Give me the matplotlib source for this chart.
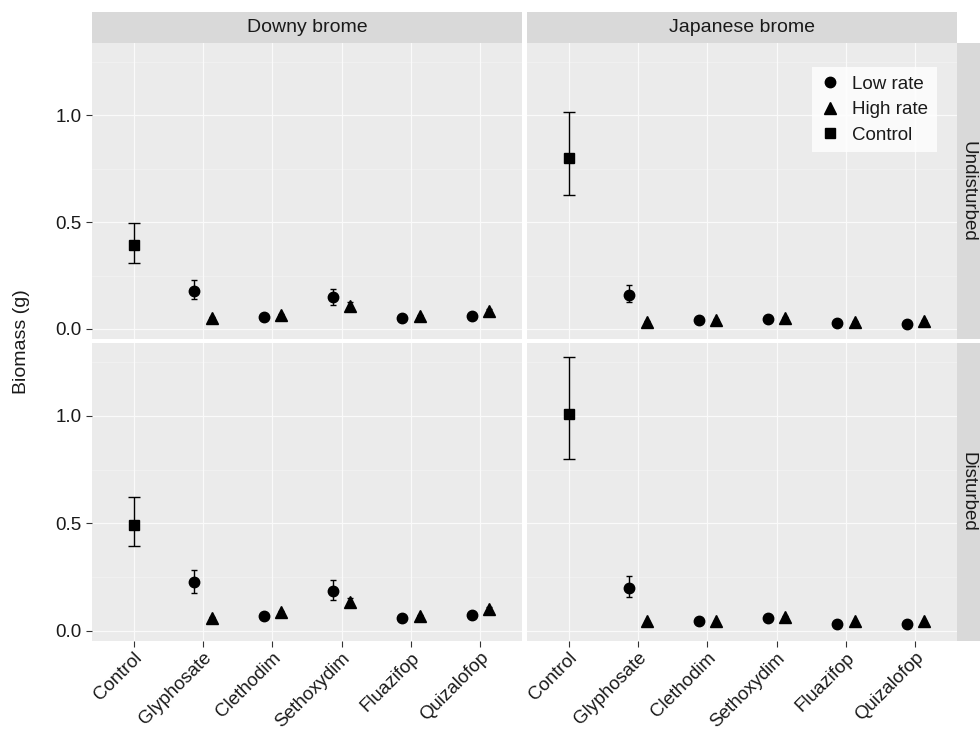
import matplotlib
matplotlib.use("Agg")
import matplotlib.pyplot as plt
from matplotlib.lines import Line2D

plt.rcParams['font.family'] = ['Liberation Sans', 'DejaVu Sans']

# ------------------------------------------------------------------
# Data - panel order: DU, JU, DD, JD
# ------------------------------------------------------------------
herbicides = ['Control', 'Glyphosate', 'Clethodim', 'Sethoxydim', 'Fluazifop', 'Quizalofop']
species = ['Downy brome', 'Japanese brome']
disturbance = ['Undisturbed', 'Disturbed']

ctrl_mean = [0.392, 0.798, 0.492, 1.007]
ctrl_lo = [0.307, 0.626, 0.394, 0.801]
ctrl_hi = [0.497, 1.016, 0.621, 1.274]

low_mean = [
    [0.179, 0.054, 0.148, 0.052, 0.061],
    [0.161, 0.042, 0.047, 0.030, 0.023],
    [0.226, 0.067, 0.187, 0.061, 0.075],
    [0.200, 0.048, 0.059, 0.033, 0.030],
]
low_lo = [
    [0.140, 0.049, 0.114, 0.047, 0.056],
    [0.126, 0.037, 0.043, 0.026, 0.019],
    [0.178, 0.061, 0.145, 0.055, 0.069],
    [0.159, 0.043, 0.054, 0.029, 0.026],
]
low_hi = [
    [0.229, 0.059, 0.187, 0.057, 0.066],
    [0.204, 0.047, 0.051, 0.034, 0.027],
    [0.281, 0.073, 0.236, 0.067, 0.081],
    [0.254, 0.053, 0.064, 0.037, 0.034],
]
high_mean = [
    [0.051, 0.067, 0.109, 0.062, 0.086],
    [0.033, 0.044, 0.050, 0.033, 0.037],
    [0.061, 0.086, 0.134, 0.070, 0.104],
    [0.044, 0.044, 0.066, 0.044, 0.044],
]
high_lo = [
    [0.046, 0.062, 0.092, 0.057, 0.080],
    [0.030, 0.040, 0.046, 0.030, 0.033],
    [0.056, 0.080, 0.115, 0.065, 0.097],
    [0.040, 0.040, 0.061, 0.040, 0.040],
]
high_hi = [
    [0.056, 0.072, 0.127, 0.067, 0.092],
    [0.036, 0.048, 0.054, 0.036, 0.041],
    [0.066, 0.092, 0.154, 0.075, 0.111],
    [0.048, 0.048, 0.071, 0.048, 0.048],
]

# ------------------------------------------------------------------
# Layout helpers (pixel boxes -> figure fractions)
# ------------------------------------------------------------------
W, H = 980, 731
fig = plt.figure(figsize=(W / 100, H / 100), dpi=100)


def box(x0, y0, x1, y1):
    return [x0 / W, 1 - y1 / H, (x1 - x0) / W, (y1 - y0) / H]


cols_px = [(92, 522), (527, 957)]
rows_px = [(43, 339), (343, 641)]

strip_bg = '#D9D9D9'
panel_bg = '#EBEBEB'
txt_col = '#1A1A1A'
tick_col = '#333333'
dodge = 0.125

for r, (y0, y1) in enumerate(rows_px):
    for c, (x0, x1) in enumerate(cols_px):
        k = r * 2 + c
        ax = fig.add_axes(box(x0, y0, x1, y1))
        ax.set_facecolor(panel_bg)
        for s in ax.spines.values():
            s.set_visible(False)
        ax.set_xlim(0.4, 6.6)
        ax.set_ylim(-0.047, 1.338)

        # grille
        for yv in [0.25, 0.75, 1.25]:
            ax.axhline(yv, color='#F3F3F3', lw=0.5, zorder=0)
        for yv in [0.0, 0.5, 1.0]:
            ax.axhline(yv, color='#FAFAFA', lw=0.9, zorder=0)
        for xv in range(1, 7):
            ax.axvline(xv, color='#FAFAFA', lw=0.9, zorder=0)

        # témoin
        ax.errorbar([1], [ctrl_mean[k]],
                    yerr=[[ctrl_mean[k] - ctrl_lo[k]], [ctrl_hi[k] - ctrl_mean[k]]],
                    fmt='s', color='black', ms=7.5, elinewidth=1.0,
                    capsize=4.5, capthick=1.0, zorder=3)

        xs = list(range(2, 7))
        lm, hm = low_mean[k], high_mean[k]
        ax.errorbar([x - dodge for x in xs], lm,
                    yerr=[[m - lo for m, lo in zip(lm, low_lo[k])],
                          [hi - m for m, hi in zip(lm, low_hi[k])]],
                    fmt='o', color='black', ms=7.5, elinewidth=1.0,
                    capsize=2.2, capthick=1.0, zorder=3)
        ax.errorbar([x + dodge for x in xs], hm,
                    yerr=[[m - lo for m, lo in zip(hm, high_lo[k])],
                          [hi - m for m, hi in zip(hm, high_hi[k])]],
                    fmt='^', color='black', ms=8.5, elinewidth=1.0,
                    capsize=2.2, capthick=1.0, zorder=3)

        ax.set_xticks(range(1, 7))
        ax.set_yticks([0.0, 0.5, 1.0])
        ax.tick_params(color=tick_col, length=4, width=0.8, labelsize=13.5,
                       labelcolor=txt_col)
        if r == 1:
            ax.set_xticklabels(herbicides, rotation=45, ha='right', va='top',
                               rotation_mode='anchor', fontsize=13.5)
            ax.tick_params(axis='x', pad=2)
        else:
            ax.tick_params(axis='x', length=0, labelbottom=False)
        if c == 0:
            ax.set_yticklabels(['0.0', '0.5', '1.0'])
        else:
            ax.tick_params(axis='y', length=0, labelleft=False)

        if k == 1:
            handles = [
                Line2D([], [], marker='o', color='black', ls='none', ms=7.5),
                Line2D([], [], marker='^', color='black', ls='none', ms=8.5),
                Line2D([], [], marker='s', color='black', ls='none', ms=7.5),
            ]
            leg = ax.legend(handles, ['Low rate', 'High rate', 'Control'],
                            loc='upper right', bbox_to_anchor=(0.975, 0.95),
                            frameon=True, fancybox=False, fontsize=13.5,
                            handlelength=1.0, handletextpad=0.7,
                            labelspacing=0.45, borderpad=0.45)
            leg.get_frame().set_facecolor('white')
            leg.get_frame().set_edgecolor('white')
            leg.get_frame().set_linewidth(0)
            for t in leg.get_texts():
                t.set_color(txt_col)

# bandeaux du haut
for c, (x0, x1) in enumerate(cols_px):
    sax = fig.add_axes(box(x0, 12, x1, 43))
    sax.set_facecolor(strip_bg)
    sax.set_xticks([])
    sax.set_yticks([])
    for s in sax.spines.values():
        s.set_visible(False)
    sax.text(0.5, 0.5, species[c], ha='center', va='center',
             fontsize=14, color=txt_col, transform=sax.transAxes)

# bandeaux de droite (coupés par le bord de l'image)
for r, (y0, y1) in enumerate(rows_px):
    sax = fig.add_axes(box(957, y0, 990, y1))
    sax.set_facecolor(strip_bg)
    sax.set_xticks([])
    sax.set_yticks([])
    for s in sax.spines.values():
        s.set_visible(False)
    fig.text(968 / W, 1 - (y0 + y1) / 2 / H, disturbance[r], ha='center',
             va='center', rotation=-90, fontsize=13.5, color=txt_col)

fig.text(22 / W, 1 - 342 / H, 'Biomass (g)', rotation=90, ha='center',
         va='center', fontsize=14, color=txt_col)

fig.savefig('out.png', dpi=100)
